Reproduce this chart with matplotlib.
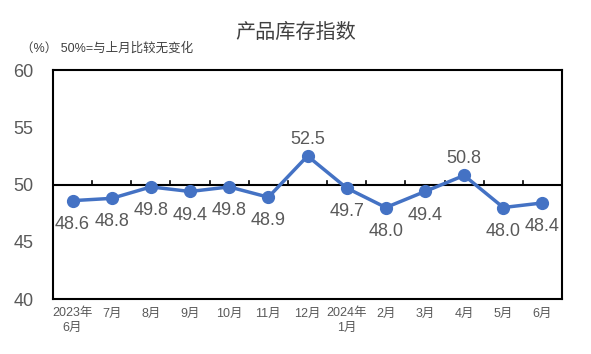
import numpy as np
import matplotlib
matplotlib.use("Agg")
import matplotlib.pyplot as plt

plt.rcParams['font.family'] = ['Liberation Sans', 'Noto Sans CJK SC', 'DejaVu Sans']

months = ['2023年\n6月', '7月', '8月', '9月', '10月', '11月', '12月',
          '2024年\n1月', '2月', '3月', '4月', '5月', '6月']
values = [48.6, 48.8, 49.8, 49.4, 49.8, 48.9, 52.5, 49.7, 48.0, 49.4, 50.8, 48.0, 48.4]
label_above = [False, False, False, False, False, False, True,
               False, False, False, True, False, False]

LINE = '#4472C4'
GRAY = '#595959'

fig = plt.figure(figsize=(5.91, 3.54), dpi=100)
ax = fig.add_axes([0.0897, 0.155, 0.8613, 0.647])

x = np.arange(len(values))
ax.plot(x, values, color=LINE, linewidth=2.5, marker='o', markersize=8.5, zorder=5)

# 50 reference line with small upward ticks at category boundaries
ax.axhline(50, color='black', linewidth=1.5, zorder=3)
for b in np.arange(0.5, len(values) - 1, 1.0):
    ax.plot([b, b], [50, 50.35], color='black', linewidth=1.2, zorder=3)

for xi, v, up in zip(x, values, label_above):
    ax.annotate(f'{v:.1f}', (xi, v), xytext=(0, 12 if up else -17),
                textcoords='offset points', ha='center', va='center',
                fontsize=13, color=GRAY)

ax.set_xlim(-0.5, len(values) - 0.5)
ax.set_ylim(40, 60)
ax.set_yticks([40, 45, 50, 55, 60])
ax.tick_params(axis='y', length=0, labelsize=13, labelcolor=GRAY, pad=14)
ax.set_xticks(x)
ax.set_xticklabels(months, fontsize=9, color=GRAY, linespacing=1.25)
ax.tick_params(axis='x', length=0, pad=6)

for s in ax.spines.values():
    s.set_linewidth(1.5)
    s.set_color('black')

fig.text(0.5, 0.91, '产品库存指数', ha='center', va='center', fontsize=14.5, color='#404040')
fig.text(0.035, 0.864, '（%） 50%=与上月比较无变化', ha='left', va='center',
         fontsize=9, color='#404040')

fig.savefig('out.png', dpi=100)
